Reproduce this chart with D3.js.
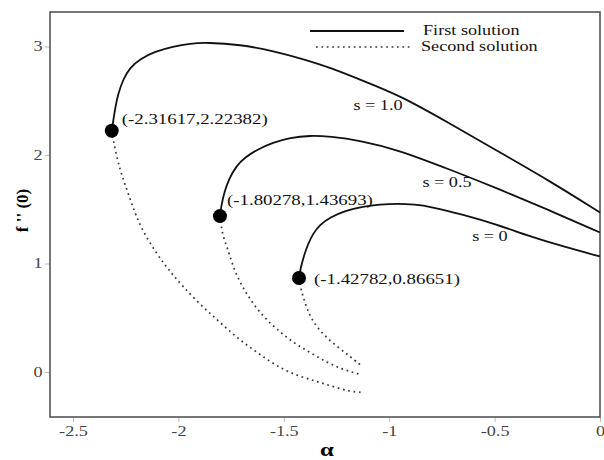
<!DOCTYPE html>
<html>
<head>
<meta charset="utf-8">
<script src="https://cdn.jsdelivr.net/npm/d3@7"></script>
<style>
  html, body { margin: 0; padding: 0; background: #fff; }
  svg { display: block; font-family: "Liberation Serif", "Times New Roman", serif; }
</style>
</head>
<body>
<svg id="chart" width="604" height="460"></svg>
<script>
// Suction parameter values and their turning points (critical alpha, f''(0))
const sLabels = ["s = 1.0", "s = 0.5", "s = 0"];
const turnAlpha = [-2.31617, -1.80278, -1.42782];
const turnF = [2.22382, 1.43693, 0.86651];
const turnText = ["(-2.31617,2.22382)", "(-1.80278,1.43693)", "(-1.42782,0.86651)"];

// First (upper) solution branches
const firstAlphaS10 = [-2.31617, -2.3080, -2.2990, -2.2865, -2.2628, -2.2296, -2.1822, -2.111, -2.0256, -1.945, -1.8643, -1.7078, -1.5512, -1.390, -1.2808, -1.1148, -0.9488, -0.7116, -0.5076, -0.2372, 0];
const firstFS10 = [2.22382, 2.330, 2.440, 2.558, 2.696, 2.806, 2.885, 2.954, 3.000, 3.028, 3.037, 3.018, 2.960, 2.875, 2.805, 2.677, 2.548, 2.290, 2.060, 1.760, 1.470];
const firstAlphaS05 = [-1.80278, -1.7960, -1.7820, -1.7600, -1.7250, -1.684, -1.627, -1.5512, -1.4706, -1.3757, -1.2808, -1.1385, -0.963, -0.7116, -0.4744, -0.2372, 0];
const firstFS05 = [1.43693, 1.540, 1.660, 1.780, 1.900, 1.977, 2.050, 2.115, 2.161, 2.180, 2.171, 2.134, 2.051, 1.866, 1.682, 1.488, 1.286];
const firstAlphaS0 = [-1.42782, -1.420, -1.405, -1.385, -1.3615, -1.3283, -1.2808, -1.2097, -1.1243, -1.0436, -0.963, -0.8776, -0.8065, -0.6499, -0.4886, -0.332, -0.1755, 0];
const firstFS0 = [0.86651, 0.960, 1.070, 1.180, 1.275, 1.359, 1.424, 1.488, 1.525, 1.544, 1.553, 1.544, 1.525, 1.452, 1.359, 1.249, 1.157, 1.065];

// Second (lower) solution branches
const secondAlphaS10 = [-2.31617, -2.3008, -2.277, -2.2533, -2.2201, -2.1822, -2.1015, -2.0398, -1.9782, -1.8975, -1.8169, -1.741, -1.6603, -1.5797, -1.5038, -1.4231, -1.3425, -1.2666, -1.186, -1.1243];
const secondFS10 = [2.22382, 2.050, 1.866, 1.728, 1.544, 1.341, 1.083, 0.926, 0.788, 0.622, 0.484, 0.346, 0.226, 0.115, 0.023, -0.041, -0.088, -0.134, -0.180, -0.189];
const secondAlphaS05 = [-1.80278, -1.7979, -1.7884, -1.7647, -1.741, -1.7078, -1.6603, -1.5987, -1.5323, -1.4564, -1.3757, -1.2951, -1.2192, -1.1385];
const secondFS05 = [1.43693, 1.359, 1.249, 1.129, 0.972, 0.825, 0.668, 0.512, 0.392, 0.272, 0.180, 0.088, 0.023, -0.023];
const secondAlphaS0 = [-1.42782, -1.4184, -1.4042, -1.3852, -1.3615, -1.314, -1.2476, -1.186, -1.1385];
const secondFS0 = [0.86651, 0.760, 0.668, 0.558, 0.465, 0.346, 0.235, 0.143, 0.069];

// Axis ticks
const xTicks = [-2.5, -2, -1.5, -1, -0.5, 0];
const xTickText = ["-2.5", "-2", "-1.5", "-1", "-0.5", "0"];
const yTicks = [0, 1, 2, 3];
const yTickText = ["0", "1", "2", "3"];
const legendText = ["First solution", "Second solution"];

const svg = d3.select("#chart");
const plot = { left: 50, right: 600, top: 12, bottom: 417 };
const stretch = 1.3; // horizontal widening of the serif lettering

const x = d3.scaleLinear().domain([-2.6091, 0]).range([plot.left, plot.right]);
const y = d3.scaleLinear().domain([-0.4147, 3.3180]).range([plot.bottom, plot.top]);

// Widened text helper: places a text at (px, py) and stretches it horizontally
function label(px, py, str, opts = {}) {
  const g = svg.append("g").attr("transform", `translate(${px},${py}) scale(${opts.sx || stretch},1)`);
  return g.append("text")
    .attr("text-anchor", opts.anchor || "start")
    .attr("dominant-baseline", "central")
    .attr("font-size", opts.size || 14)
    .attr("font-weight", opts.weight || "normal")
    .attr("fill", opts.fill || "#111")
    .text(str);
}

// Axes with outward ticks
const xAxis = d3.axisBottom(x).tickValues(xTicks).tickSize(5).tickFormat((d, i) => xTickText[i]);
const yAxis = d3.axisLeft(y).tickValues(yTicks).tickSize(5).tickFormat((d, i) => yTickText[i]);

const gx = svg.append("g").attr("transform", `translate(0,${plot.bottom})`).call(xAxis);
const gy = svg.append("g").attr("transform", `translate(${plot.left},0)`).call(yAxis);
[gx, gy].forEach(g => {
  g.select(".domain").remove();
  g.selectAll(".tick line").attr("stroke", "#bbb").attr("stroke-width", 1);
  g.selectAll(".tick text").attr("font-family", "Liberation Serif, serif").attr("font-size", 14).attr("fill", "#444");
});
gx.selectAll(".tick text").attr("y", 15).attr("dy", "0.32em")
  .attr("transform", `scale(${stretch},1)`);
gy.selectAll(".tick text").attr("x", 0).attr("dy", "0.32em").attr("text-anchor", "middle")
  .attr("transform", `translate(-12,0) scale(${stretch},1)`);

// Frame
svg.append("rect")
  .attr("x", plot.left).attr("y", plot.top)
  .attr("width", plot.right - plot.left).attr("height", plot.bottom - plot.top)
  .attr("fill", "none").attr("stroke", "#555").attr("stroke-width", 1.6);

const line = d3.line().x(d => x(d[0])).y(d => y(d[1])).curve(d3.curveBasis);
const zip = (a, b) => a.map((v, i) => [v, b[i]]);

const firstBranches = [zip(firstAlphaS10, firstFS10), zip(firstAlphaS05, firstFS05), zip(firstAlphaS0, firstFS0)];
const secondBranches = [zip(secondAlphaS10, secondFS10), zip(secondAlphaS05, secondFS05), zip(secondAlphaS0, secondFS0)];

const curves = svg.append("g");
curves.selectAll("path.first").data(firstBranches).join("path")
  .attr("class", "first")
  .attr("d", line).attr("fill", "none").attr("stroke", "#111").attr("stroke-width", 1.8);
curves.selectAll("path.second").data(secondBranches).join("path")
  .attr("class", "second")
  .attr("d", line).attr("fill", "none").attr("stroke", "#333").attr("stroke-width", 1.7)
  .attr("stroke-dasharray", "1.7,3.7");

// Turning points
svg.append("g").selectAll("circle").data(turnAlpha).join("circle")
  .attr("cx", d => x(d)).attr("cy", (d, i) => y(turnF[i]))
  .attr("r", 7).attr("fill", "#000");

// Turning point annotations
const annDx = [10, 7, 15];
const annDy = [-11, -16, 1];
turnAlpha.forEach((a, i) => {
  label(x(a) + annDx[i], y(turnF[i]) + annDy[i], turnText[i], { size: 14.5 });
});

// Curve labels
const sPos = [[-1.053, 2.456], [-0.7258, 1.744], [-0.522, 1.244]];
sLabels.forEach((t, i) => {
  label(x(sPos[i][0]), y(sPos[i][1]), t, { size: 14, anchor: "middle" });
});

// Legend
const leg = svg.append("g");
leg.append("line").attr("x1", 310).attr("x2", 404).attr("y1", 31).attr("y2", 31)
  .attr("stroke", "#111").attr("stroke-width", 1.8);
leg.append("line").attr("x1", 316).attr("x2", 410).attr("y1", 47).attr("y2", 47)
  .attr("stroke", "#333").attr("stroke-width", 1.7).attr("stroke-dasharray", "1.7,3.7");
label(423, 31, legendText[0], { size: 14 });
label(421, 47, legendText[1], { size: 14 });

// Axis titles
label((plot.left + plot.right) / 2 + 2, 450, "\u03b1", { size: 19, weight: "bold", anchor: "middle", fill: "#000" });
svg.append("g").attr("transform", `translate(22,${(plot.top + plot.bottom) / 2 - 4}) rotate(-90)`)
  .append("text").attr("text-anchor", "middle").attr("dominant-baseline", "central")
  .attr("font-size", 17).attr("font-weight", "bold").attr("fill", "#000")
  .text("f '' (0)");
</script>
</body>
</html>
